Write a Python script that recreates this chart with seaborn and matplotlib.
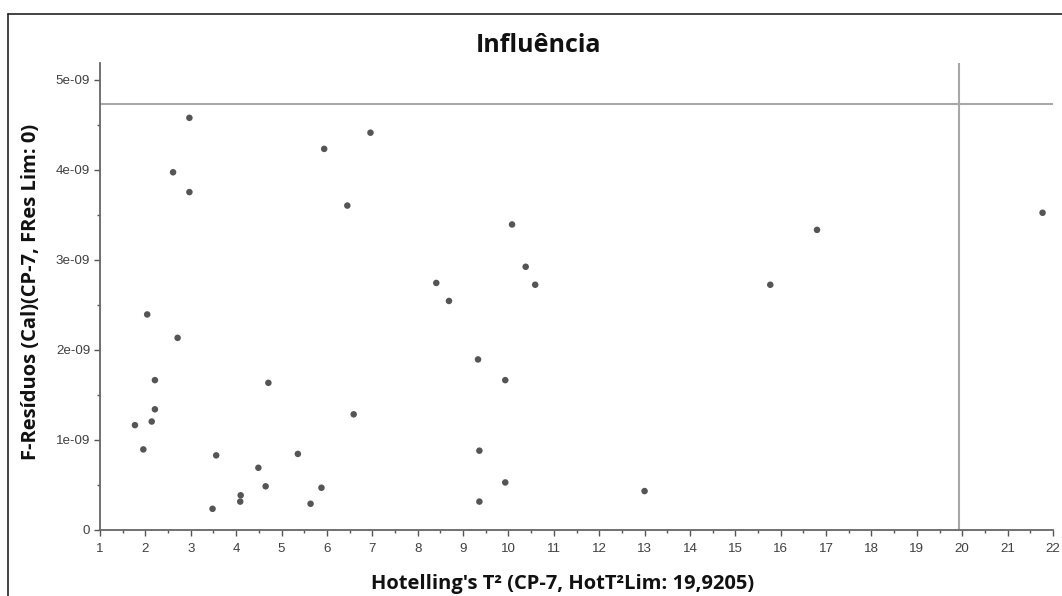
import matplotlib
matplotlib.use("Agg")
import matplotlib.pyplot as plt
import seaborn as sns
import pandas as pd
from matplotlib.lines import Line2D
from matplotlib.ticker import MultipleLocator

hotelling_t2 = [2.97, 2.61, 2.97, 5.94, 6.96, 6.45, 10.08, 10.38, 10.59, 8.41,
                2.04, 2.71, 2.21, 2.21, 2.14, 1.77, 1.955, 4.71, 3.56, 3.48,
                4.09, 4.10, 4.49, 4.65, 5.36, 5.64, 5.88, 6.59, 8.69, 9.33,
                9.93, 9.36, 9.93, 9.36, 13.0, 16.80, 15.77, 21.77]
f_residuos = [4.575e-9, 3.97e-9, 3.75e-9, 4.23e-9, 4.41e-9, 3.60e-9, 3.39e-9, 2.92e-9, 2.72e-9, 2.74e-9,
              2.39e-9, 2.13e-9, 1.66e-9, 1.336e-9, 1.20e-9, 1.16e-9, 0.89e-9, 1.63e-9, 0.824e-9, 0.23e-9,
              0.31e-9, 0.38e-9, 0.686e-9, 0.48e-9, 0.84e-9, 0.286e-9, 0.464e-9, 1.28e-9, 2.54e-9, 1.89e-9,
              1.66e-9, 0.876e-9, 0.523e-9, 0.31e-9, 0.427e-9, 3.33e-9, 2.72e-9, 3.52e-9]
hot_lim = 19.9205
fres_line = 4.733e-9

x_ticks = list(range(1, 23))
y_ticks = [0, 1e-9, 2e-9, 3e-9, 4e-9, 5e-9]
y_tick_labels = ["0", "1e-09", "2e-09", "3e-09", "4e-09", "5e-09"]

title = "Influência"
x_label = "Hotelling's T² (CP-7, HotT²Lim: 19,9205)"
y_label = "F-Resíduos (Cal)(CP-7, FRes Lim: 0)"

df = pd.DataFrame({"t2": hotelling_t2, "fres": f_residuos})

sns.set_theme(style="white")
plt.rcParams['font.family'] = ['Liberation Sans', 'DejaVu Sans']

W, H = 1062, 596
fig = plt.figure(figsize=(W / 100, H / 100), dpi=100)
ax_l, ax_r, ax_t, ax_b = 100, 1053, 62.5, 529.5
ax = fig.add_axes([ax_l / W, 1 - ax_b / H, (ax_r - ax_l) / W, (ax_b - ax_t) / H])

ax.axhline(fres_line, color="#a8a8a8", lw=1.5, zorder=1)
ax.axvline(hot_lim, color="#a8a8a8", lw=1.5, zorder=1)

sns.scatterplot(data=df, x="t2", y="fres", ax=ax, color="#555555", s=22,
                edgecolor="none", zorder=3)

ax.set_xlim(1, 22)
ax.set_ylim(0, 5.19e-9)
ax.set_xticks(x_ticks)
ax.set_xticklabels([str(t) for t in x_ticks])
ax.set_yticks(y_ticks)
ax.set_yticklabels(y_tick_labels)
ax.xaxis.set_minor_locator(MultipleLocator(0.5))
ax.yaxis.set_minor_locator(MultipleLocator(0.5e-9))

for s in ["top", "right"]:
    ax.spines[s].set_visible(False)
for s in ["left", "bottom"]:
    ax.spines[s].set_color("#666666")
    ax.spines[s].set_linewidth(1.3)

ax.tick_params(axis="x", which="major", pad=6)
ax.tick_params(axis="y", which="major", pad=3)
ax.tick_params(axis="both", which="major", direction="out", length=4, width=1,
               color="#555555", labelsize=9.6, labelcolor="#404040",
               bottom=True, left=True)
ax.tick_params(axis="both", which="minor", direction="out", length=2, width=1,
               color="#555555", bottom=True, left=True)

lab_font = ['Open Sans', 'DejaVu Sans']
ax.set_xlabel(x_label, fontsize=14.5, fontweight="bold", family=lab_font, color="#111111")
ax.xaxis.label.set_va("baseline")
ax.xaxis.set_label_coords((562.5 - ax_l) / (ax_r - ax_l), -(589 - ax_b) / (ax_b - ax_t))
ax.set_ylabel(y_label, fontsize=14.5, fontweight="bold", family=lab_font, color="#111111")
ax.yaxis.label.set_va("center")
ax.yaxis.set_label_coords(-(ax_l - 31) / (ax_r - ax_l), (ax_b - 292) / (ax_b - ax_t))
fig.text(539 / W, 1 - 52 / H, title, ha="center", va="baseline", fontsize=18,
         fontweight="bold", family=lab_font, color="#111111")

# outer frame
fig.add_artist(Line2D([7.5 / W, 7.5 / W], [0, 1 - 14 / H], transform=fig.transFigure, color="#222222", lw=1.2))
fig.add_artist(Line2D([7.5 / W, 1], [1 - 14 / H, 1 - 14 / H], transform=fig.transFigure, color="#222222", lw=1.2))

fig.savefig("out.png", dpi=100)
